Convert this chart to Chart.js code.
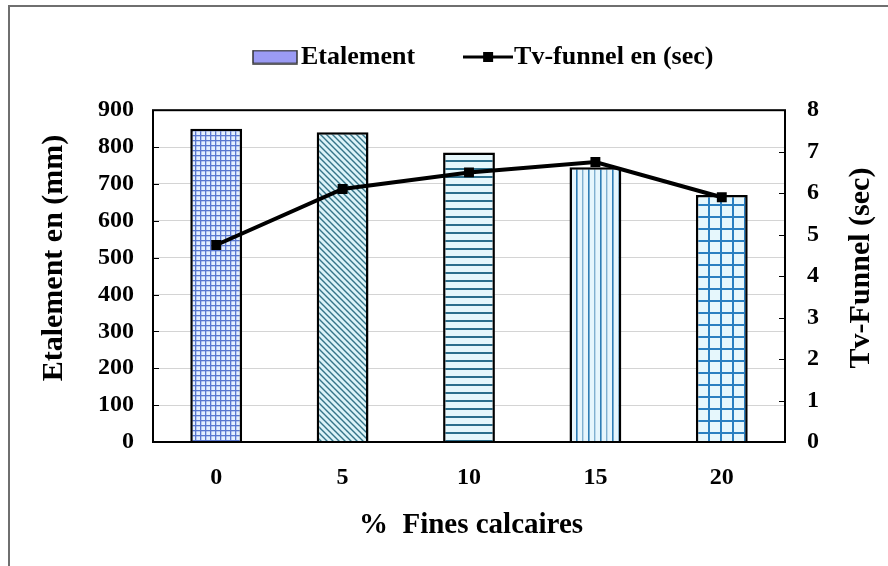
<!DOCTYPE html>
<html>
<head>
<meta charset="utf-8">
<script src="https://cdn.jsdelivr.net/npm/chart.js@4.4.1/dist/chart.umd.min.js"></script>
<style>
  html, body { margin: 0; padding: 0; background: #fff; }
  #wrap { width: 888px; height: 566px; }
</style>
</head>
<body>
<div id="wrap"><canvas id="myChart" width="888" height="566"></canvas></div>
<script>
const categories = ["0", "5", "10", "15", "20"];
const etalement = [850, 840, 785, 745, 670];
const tvFunnel = [4.75, 6.1, 6.5, 6.75, 5.9];
const leftTicks = [0, 100, 200, 300, 400, 500, 600, 700, 800, 900];
const rightTicks = [0, 1, 2, 3, 4, 5, 6, 7, 8];

const FONT = "'Liberation Serif', 'Times New Roman', serif";

function makePattern(size, bg, draw) {
  var c = document.createElement("canvas");
  c.width = size;
  c.height = size;
  var g = c.getContext("2d");
  g.fillStyle = bg;
  g.fillRect(0, 0, size, size);
  draw(g, size);
  return g.createPattern(c, "repeat");
}

// fine grid
var p0 = makePattern(5, "#e4f0ff", function (g) {
  g.fillStyle = "#5a78d0";
  g.fillRect(0, 0, 5, 1.3);
  g.fillRect(0, 0, 1.3, 5);
});
// diagonal lines
var p1 = makePattern(6, "#dcf3f8", function (g) {
  g.strokeStyle = "#357489";
  g.lineWidth = 1.4;
  g.beginPath();
  g.moveTo(-1, -1); g.lineTo(7, 7);
  g.moveTo(-1, 5); g.lineTo(1, 7);
  g.moveTo(5, -1); g.lineTo(7, 1);
  g.stroke();
});
// horizontal lines
var p2 = makePattern(8, "#e6f7fc", function (g) {
  g.fillStyle = "#2c6e8c";
  g.fillRect(0, 0, 8, 2);
});
// vertical lines
var p3 = makePattern(12, "#e6f6fd", function (g) {
  g.fillStyle = "#2f7db5";
  g.fillRect(0, 0, 1.6, 12);
  g.fillStyle = "#7fb0d0";
  g.fillRect(6, 0, 1.4, 12);
});
// large grid
var p4 = makePattern(12, "#e6f7fc", function (g) {
  g.fillStyle = "#2a7fc0";
  g.fillRect(0, 0, 12, 2);
  g.fillRect(0, 0, 2, 12);
});

// legend swatches
function barSwatch() {
  var c = document.createElement("canvas");
  c.width = 46; c.height = 15;
  var g = c.getContext("2d");
  g.fillStyle = "#9b9bf4";
  g.fillRect(1, 1, 44, 13);
  g.strokeStyle = "#333";
  g.lineWidth = 1.5;
  g.strokeRect(1, 1, 44, 13);
  return c;
}
function lineSwatch() {
  var c = document.createElement("canvas");
  c.width = 50; c.height = 12;
  var g = c.getContext("2d");
  g.fillStyle = "#000";
  g.fillRect(0, 4.5, 50, 3);
  g.fillRect(20, 1, 10, 10);
  return c;
}

const framePlugin = {
  id: "frame",
  afterLayout(chart) {
    // place the legend row where the reference has it
    chart.legend.left = 202;
  },
  beforeDraw(chart) {
    const ctx = chart.ctx;
    ctx.save();
    ctx.fillStyle = "#fff";
    ctx.fillRect(0, 0, chart.width, chart.height);
    ctx.strokeStyle = "#6f6f6f";
    ctx.lineWidth = 2;
    ctx.beginPath();
    ctx.moveTo(9, 566);
    ctx.lineTo(9, 6);
    ctx.lineTo(888, 6);
    ctx.stroke();
    ctx.restore();
  },
  afterDatasetsDraw(chart) {
    const ctx = chart.ctx;
    const a = chart.chartArea;
    ctx.save();
    ctx.strokeStyle = "#000";
    ctx.lineWidth = 2;
    ctx.strokeRect(a.left, a.top, a.right - a.left, a.bottom - a.top);
    // inner tick marks
    ctx.lineWidth = 1;
    const y = chart.scales.y, y1 = chart.scales.y1;
    leftTicks.forEach(function (v) {
      const py = Math.round(y.getPixelForValue(v)) + 0.5;
      ctx.beginPath(); ctx.moveTo(a.left, py); ctx.lineTo(a.left + 6, py); ctx.stroke();
    });
    rightTicks.forEach(function (v) {
      const py = Math.round(y1.getPixelForValue(v)) + 0.5;
      ctx.beginPath(); ctx.moveTo(a.right - 6, py); ctx.lineTo(a.right, py); ctx.stroke();
    });
    ctx.restore();
  },
  afterDraw(chart) {
    const ctx = chart.ctx;
    ctx.save();
    ctx.fillStyle = "#000";
    ctx.textAlign = "center";
    ctx.textBaseline = "middle";
    ctx.font = "bold 30px " + FONT;
    ctx.translate(54, 258);
    ctx.rotate(-Math.PI / 2);
    ctx.fillText("Etalement en (mm)", 0, 0);
    ctx.restore();

    ctx.save();
    ctx.fillStyle = "#000";
    ctx.textAlign = "center";
    ctx.textBaseline = "middle";
    ctx.font = "bold 30px " + FONT;
    ctx.translate(861, 268);
    ctx.rotate(-Math.PI / 2);
    ctx.fillText("Tv-Funnel (sec)", 0, 0);
    ctx.restore();

    ctx.save();
    ctx.fillStyle = "#000";
    ctx.textAlign = "center";
    ctx.textBaseline = "middle";
    ctx.font = "bold 29px " + FONT;
    ctx.fillText("%  Fines calcaires", 471, 526);
    ctx.restore();
  }
};

const ctx = document.getElementById("myChart").getContext("2d");
const myChart = new Chart(ctx, {
  type: "bar",
  data: {
    labels: categories,
    datasets: [
      {
        type: "bar",
        label: "Etalement",
        data: etalement,
        yAxisID: "y",
        backgroundColor: [p0, p1, p2, p3, p4],
        borderColor: "#000",
        borderWidth: 2.5,
        barPercentage: 0.41,
        categoryPercentage: 1,
        order: 2
      },
      {
        type: "line",
        label: "Tv-funnel en (sec)",
        data: tvFunnel,
        yAxisID: "y1",
        borderColor: "#000",
        backgroundColor: "#000",
        borderWidth: 4,
        pointStyle: "rect",
        pointRadius: 7,
        pointBorderWidth: 0,
        tension: 0,
        order: 1
      }
    ]
  },
  options: {
    responsive: false,
    animation: false,
    devicePixelRatio: 1,
    layout: { padding: { top: -16, left: 0, right: 0, bottom: 0 } },
    plugins: {
      tooltip: { enabled: false },
      subtitle: {
        display: true,
        text: " ",
        weight: 500,
        font: { size: 1 },
        padding: { top: 0, bottom: 29 }
      },
      legend: {
        display: true,
        position: "top",
        align: "start",
        labels: {
          usePointStyle: true,
          pointStyleWidth: 26,
          padding: 60,
          color: "#000",
          font: { family: FONT, size: 26, weight: "bold" },
          generateLabels: function () {
            return [
              { text: "Etalement", pointStyle: barSwatch(), datasetIndex: 0, hidden: false, lineWidth: 0, fontColor: "#000" },
              { text: "Tv-funnel en (sec)", pointStyle: lineSwatch(), datasetIndex: 1, hidden: false, lineWidth: 0, fontColor: "#000" }
            ];
          }
        }
      }
    },
    scales: {
      x: {
        grid: { display: false, drawTicks: false },
        border: { display: false },
        ticks: {
          color: "#000",
          padding: 21,
          font: { family: FONT, size: 24, weight: "bold" }
        },
        afterFit: function (s) { s.height = 124; }
      },
      y: {
        position: "left",
        min: 0,
        max: 900,
        afterBuildTicks: function (s) { s.ticks = leftTicks.map(function (v) { return { value: v }; }); },
        grid: { color: "#d4d4d4", lineWidth: 1, drawTicks: false },
        border: { display: false },
        ticks: {
          color: "#000",
          padding: 19,
          font: { family: FONT, size: 24, weight: "bold" }
        },
        afterFit: function (s) { s.width = 153; }
      },
      y1: {
        position: "right",
        min: 0,
        max: 8,
        afterBuildTicks: function (s) { s.ticks = rightTicks.map(function (v) { return { value: v }; }); },
        grid: { display: false, drawTicks: false },
        border: { display: false },
        ticks: {
          color: "#000",
          padding: 22,
          font: { family: FONT, size: 24, weight: "bold" }
        },
        afterFit: function (s) { s.width = 103; }
      }
    }
  },
  plugins: [framePlugin]
});
</script>
</body>
</html>
